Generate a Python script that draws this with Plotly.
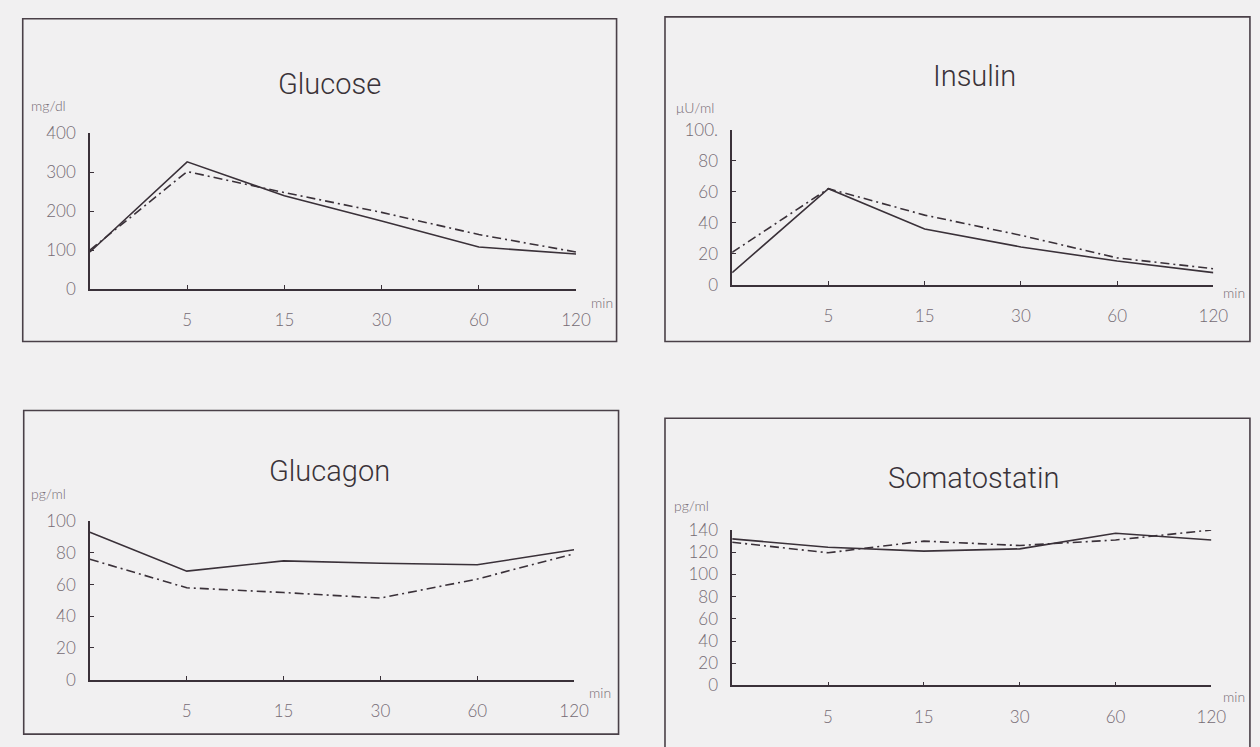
import plotly.graph_objects as go

W, H = 1260, 747

# ---- data ----
times = ["0", "5", "15", "30", "60", "120"]
tick_times = ["5", "15", "30", "60", "120"]

glucose_solid = [95, 327, 240, 175, 108, 90]
glucose_dash = [100, 302, 248, 197, 140, 95]
glucose_ticks = [0, 100, 200, 300, 400]
glucose_ticktext = ["0", "100", "200", "300", "400"]

insulin_solid = [8, 62, 36, 24.5, 15.5, 8]
insulin_dash = [21, 62, 45, 32, 17.5, 10.5]
insulin_ticks = [0, 20, 40, 60, 80, 100]
insulin_ticktext = ["0", "20", "40", "60", "80", "100."]

glucagon_solid = [93, 68.5, 75, 73.5, 72.5, 82]
glucagon_dash = [76, 58, 55, 51.5, 63.5, 79.5]
glucagon_ticks = [0, 20, 40, 60, 80, 100]
glucagon_ticktext = ["0", "20", "40", "60", "80", "100"]

somato_solid = [132, 124.5, 121, 123, 137, 131]
somato_dash = [129, 119.5, 130, 126, 131, 140]
somato_ticks = [0, 20, 40, 60, 80, 100, 120, 140]
somato_ticktext = ["0", "20", "40", "60", "80", "100", "120", "140"]

titles = ["Glucose", "Insulin", "Glucagon", "Somatostatin"]
units = ["mg/dl", "\u03bcU/ml", "pg/ml", "pg/ml"]

# ---- style ----
LINE = "#3a3139"
TICKC = "#756b74"
BG = "#f1f0f1"
TICKFONT = dict(family="Lato, Noto Sans, sans-serif", size=17, color=TICKC, weight=300)
SMALLFONT = dict(family="Lato, Noto Sans, sans-serif", size=14, color=TICKC, weight=300)
TITLEFONT = dict(family="Roboto, Liberation Sans, sans-serif", size=29, color="#3a3339", weight=300)


def px2x(p):
    return p / W


def px2y(p):
    return 1 - p / H


fig = go.Figure()

panels = [
    dict(solid=glucose_solid, dash=glucose_dash, ticks=glucose_ticks, ticktext=glucose_ticktext,
         ymax=400, x0=91, x1=583, y0=286, y1=126,
         box=(23, 8, 624, 340), title=(333, 75), unit=(29, 97), minpos=(596, 300)),
    dict(solid=insulin_solid, dash=insulin_dash, ticks=insulin_ticks, ticktext=insulin_ticktext,
         ymax=100, x0=741, x1=1228, y0=282, y1=122,
         box=(673, 6, 1265, 340), title=(986, 67), unit=(682, 99), minpos=(1236, 290)),
    dict(solid=glucagon_solid, dash=glucagon_dash, ticks=glucagon_ticks, ticktext=glucagon_ticktext,
         ymax=100, x0=91, x1=581, y0=688, y1=525,
         box=(24, 411, 626, 744), title=(333, 473), unit=(29, 496), minpos=(594, 701)),
    dict(solid=somato_solid, dash=somato_dash, ticks=somato_ticks, ticktext=somato_ticktext,
         ymax=140, x0=741, x1=1226, y0=694, y1=534,
         box=(673, 419, 1265, 760), title=(985, 481), unit=(680, 509), minpos=(1236, 705)),
]

layout_axes = {}
shapes = []
annotations = []

for i, p in enumerate(panels):
    n = i + 1
    xa = "x" if n == 1 else f"x{n}"
    ya = "y" if n == 1 else f"y{n}"
    xkey = "xaxis" if n == 1 else f"xaxis{n}"
    ykey = "yaxis" if n == 1 else f"yaxis{n}"

    fig.add_trace(go.Scatter(x=times, y=p["solid"], mode="lines", xaxis=xa, yaxis=ya,
                             line=dict(color=LINE, width=1.6), showlegend=False, cliponaxis=False))
    fig.add_trace(go.Scatter(x=times, y=p["dash"], mode="lines", xaxis=xa, yaxis=ya,
                             line=dict(color=LINE, width=1.6, dash="9px,4px,2px,4px"),
                             showlegend=False, cliponaxis=False))

    layout_axes[xkey] = dict(
        type="category", categoryorder="array", categoryarray=times,
        range=[0, len(times) - 1],
        domain=[px2x(p["x0"]), px2x(p["x1"])],
        anchor=ya, showline=True, linecolor=LINE, linewidth=1.5,
        showgrid=False, zeroline=False,
        tickmode="array", tickvals=tick_times, ticktext=tick_times,
        ticks="inside", ticklen=4, tickcolor=LINE, tickwidth=1.3,
        tickfont=TICKFONT, ticklabelstandoff=15, fixedrange=True,
    )
    layout_axes[ykey] = dict(
        range=[0, p["ymax"]],
        domain=[px2y(p["y0"]), px2y(p["y1"])],
        anchor=xa, showline=True, linecolor=LINE, linewidth=1.5,
        showgrid=False, zeroline=False,
        tickmode="array", tickvals=p["ticks"], ticktext=p["ticktext"],
        ticks="inside", ticklen=4, tickcolor=LINE, tickwidth=1.3,
        tickfont=TICKFONT, ticklabelstandoff=9, fixedrange=True,
    )

    bx0, by0, bx1, by1 = p["box"]
    shapes.append(dict(type="rect", xref="paper", yref="paper",
                       x0=px2x(bx0), x1=px2x(bx1), y0=px2y(by1), y1=px2y(by0),
                       line=dict(color="#4a4048", width=1.6), fillcolor="rgba(0,0,0,0)", layer="below"))

    tx, ty = p["title"]
    annotations.append(dict(text=titles[i], xref="paper", yref="paper", x=px2x(tx), y=px2y(ty),
                            xanchor="center", yanchor="middle", showarrow=False, font=TITLEFONT))
    ux, uy = p["unit"]
    annotations.append(dict(text=units[i], xref="paper", yref="paper", x=px2x(ux), y=px2y(uy),
                            xanchor="left", yanchor="middle", showarrow=False, font=SMALLFONT))
    mx, my = p["minpos"]
    annotations.append(dict(text="min", xref="paper", yref="paper", x=px2x(mx), y=px2y(my),
                            xanchor="left", yanchor="middle", showarrow=False, font=SMALLFONT))

fig.update_layout(
    width=W, height=H,
    margin=dict(l=0, r=0, t=0, b=0),
    paper_bgcolor=BG, plot_bgcolor="rgba(0,0,0,0)",
    shapes=shapes, annotations=annotations,
    showlegend=False,
    **layout_axes,
)

fig.write_html(
    "out.html",
    config=dict(displayModeBar=False),
    post_script="document.body.style.margin='0';document.body.style.background='#f1f0f1';",
)
